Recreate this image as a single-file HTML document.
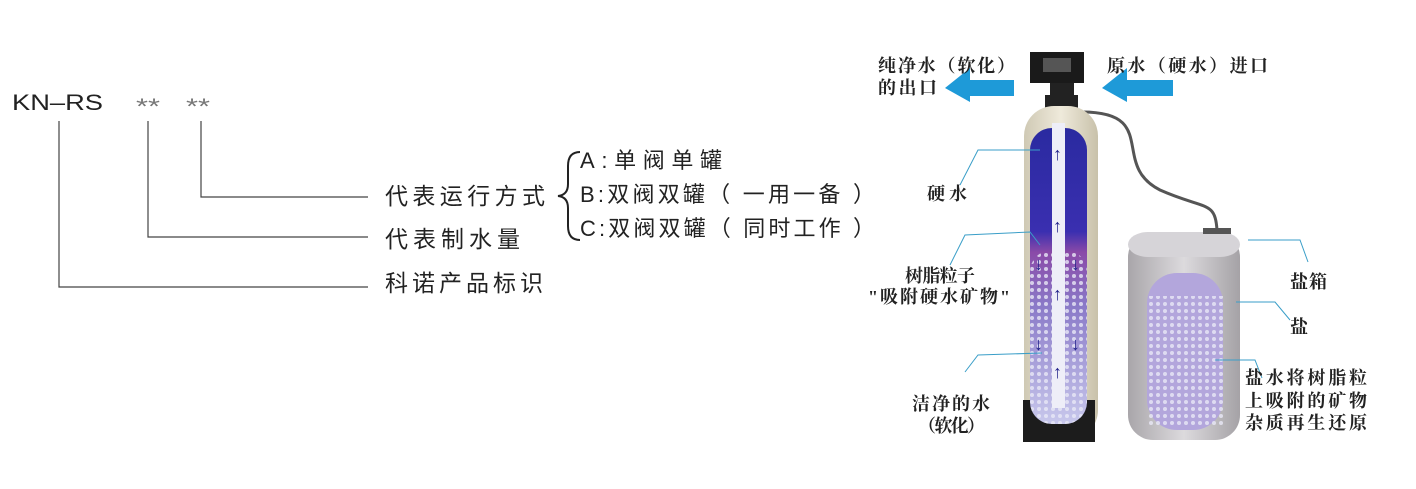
<!DOCTYPE html>
<html><head><meta charset="utf-8"><style>
body{margin:0;background:#fff;}
svg text{font-family:"Liberation Sans","Noto Sans CJK SC",sans-serif;}
.b{font-family:"Liberation Serif","Noto Serif CJK SC",serif !important;font-weight:bold;font-size:18px;fill:#222;}
</style></head><body>
<svg width="1416" height="484" viewBox="0 0 1416 484" xmlns="http://www.w3.org/2000/svg">
<defs>
<linearGradient id="tk" x1="0" x2="1"><stop offset="0" stop-color="#cfc9b4"/><stop offset=".5" stop-color="#efeadb"/><stop offset="1" stop-color="#c8c1aa"/></linearGradient>
<linearGradient id="inner" x1="0" y1="0" x2="0" y2="1"><stop offset="0" stop-color="#2a2aa0"/><stop offset=".35" stop-color="#3a2fb0"/><stop offset=".42" stop-color="#8a4aa8"/><stop offset=".6" stop-color="#8a7ac8"/><stop offset="1" stop-color="#c8c8ec"/></linearGradient>
<linearGradient id="salt" x1="0" x2="1"><stop offset="0" stop-color="#a9a6aa"/><stop offset=".5" stop-color="#dcdadd"/><stop offset="1" stop-color="#a5a2a6"/></linearGradient>
<pattern id="dots" width="7" height="7" patternUnits="userSpaceOnUse"><circle cx="3" cy="3" r="2" fill="#e8e8f6" opacity=".8"/></pattern>
</defs>
<!-- left diagram -->
<text x="12" y="110" font-size="22" fill="#222" textLength="91" lengthAdjust="spacingAndGlyphs">KN–RS</text>
<text x="136" y="114" font-size="22" fill="#777" textLength="24" lengthAdjust="spacingAndGlyphs">**</text>
<text x="186" y="114" font-size="22" fill="#777" textLength="24" lengthAdjust="spacingAndGlyphs">**</text>
<g stroke="#444" stroke-width="1.2" fill="none">
<polyline points="59,121 59,287 368,287"/>
<polyline points="148,121 148,237 368,237"/>
<polyline points="201,121 201,197 368,197"/>
</g>
<text x="385" y="204" font-size="23" fill="#222" textLength="160">代表运行方式</text>
<text x="385" y="247" font-size="23" fill="#222" textLength="135">代表制水量</text>
<text x="385" y="291" font-size="23" fill="#222" textLength="158">科诺产品标识</text>
<path d="M580,152 Q568,152 568,166 L568,184 Q568,195 558,196 Q568,197 568,208 L568,226 Q568,240 580,240" stroke="#222" stroke-width="2" fill="none"/>
<text x="580" y="168" font-size="22" fill="#222" textLength="142">A:单阀单罐</text>
<text x="580" y="202" font-size="22" fill="#222" textLength="295">B:双阀双罐（ 一用一备 ）</text>
<text x="580" y="236" font-size="22" fill="#222" textLength="295">C:双阀双罐（ 同时工作 ）</text>
<!-- right -->
<path d="M1082,112 C1160,112 1110,165 1160,190 C1205,210 1215,200 1217,230" stroke="#555" stroke-width="3" fill="none"/>
<rect x="1030" y="52" width="54" height="31" fill="#1a1a1a"/>
<rect x="1043" y="58" width="28" height="14" fill="#555"/>
<rect x="1050" y="83" width="24" height="12" fill="#222"/>
<rect x="1045" y="95" width="33" height="14" fill="#222"/>
<rect x="1024" y="106" width="74" height="334" rx="30" fill="url(#tk)"/>
<rect x="1023" y="400" width="72" height="42" fill="#1c1c1c"/>
<rect x="1030" y="128" width="57" height="296" rx="22" fill="url(#inner)"/>
<rect x="1030" y="250" width="57" height="174" rx="22" fill="url(#dots)"/>
<rect x="1052" y="123" width="13" height="285" fill="#eeeef8"/>
<g fill="#22228a" font-size="18" font-weight="bold"><text x="1053" y="160">↑</text><text x="1053" y="232">↑</text><text x="1053" y="300">↑</text><text x="1053" y="378">↑</text><text x="1034" y="270">↓</text><text x="1071" y="270">↓</text><text x="1034" y="350">↓</text><text x="1071" y="350">↓</text></g>
<rect x="1128" y="232" width="112" height="208" rx="25" fill="url(#salt)"/>
<rect x="1128" y="232" width="112" height="25" rx="20" fill="#d6d4d8"/>
<rect x="1203" y="228" width="28" height="6" fill="#555"/>
<rect x="1147" y="273" width="76" height="157" rx="30" fill="#b3a6dc"/>
<rect x="1147" y="296" width="76" height="130" fill="url(#dots)"/>
<polygon points="945,88 970,68 970,80 1014,80 1014,96 970,96 970,102" fill="#1e9ad8"/>
<polygon points="1102,88 1127,68 1127,80 1173,80 1173,96 1127,96 1127,102" fill="#1e9ad8"/>
<g stroke="#3a9ec8" stroke-width="1" fill="none">
<polyline points="960,185 978,150 1040,150"/>
<polyline points="950,265 965,235 1030,232 1040,245"/>
<polyline points="965,372 978,355 1042,353"/>
<polyline points="1248,240 1300,240 1308,262"/>
<polyline points="1236,302 1275,302 1290,320"/>
<polyline points="1215,360 1255,360 1262,378"/>
</g>
<text class="b" x="878" y="72" textLength="137">纯净水（软化）</text>
<text class="b" x="878" y="94" textLength="59">的出口</text>
<text class="b" x="1107" y="72" textLength="161">原水（硬水）进口</text>
<text class="b" x="927" y="200" textLength="40">硬水</text>
<text class="b" x="905" y="282" textLength="70">树脂粒子</text>
<text class="b" x="868" y="303" textLength="142">"吸附硬水矿物"</text>
<text class="b" x="912" y="410" textLength="78">洁净的水</text>
<text class="b" x="918" y="432" textLength="67">（软化）</text>
<text class="b" x="1290" y="288" textLength="37">盐箱</text>
<text class="b" x="1290" y="333">盐</text>
<text class="b" x="1245" y="384" textLength="122">盐水将树脂粒</text>
<text class="b" x="1245" y="407" textLength="122">上吸附的矿物</text>
<text class="b" x="1245" y="429" textLength="122">杂质再生还原</text>
</svg>
</body></html>
